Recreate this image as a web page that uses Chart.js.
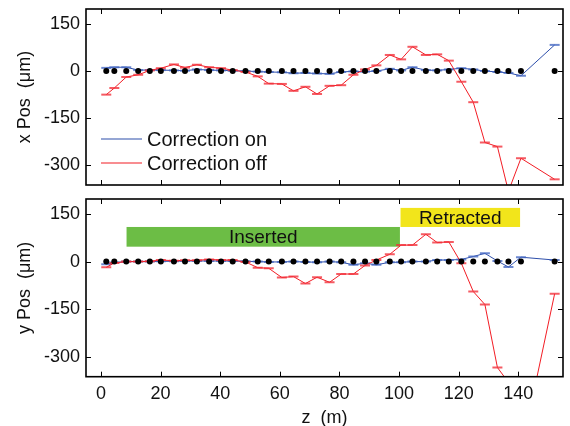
<!DOCTYPE html>
<html><head><meta charset="utf-8">
<script src="https://cdn.jsdelivr.net/npm/chart.js@4.4.1/dist/chart.umd.min.js"></script>
<style>
html,body{margin:0;padding:0;background:#fff;}
#wrap{position:relative;width:570px;height:426px;overflow:hidden;}
#c1{position:absolute;left:0;top:0;}
#c2{position:absolute;left:0;top:192px;}
</style></head><body>
<div id="wrap"><canvas id="c1" width="570" height="192"></canvas><canvas id="c2" width="570" height="234"></canvas></div>
<script>
// ---- data ----
const zPos = [1.8, 4.5, 8.5, 12.5, 16.4, 20.1, 24.5, 28.2, 32.2, 36.3, 40.3, 44.2, 48.5, 52.6, 56.3, 60.7, 64.6, 68.6, 72.5, 76.7, 80.6, 84.7, 88.6, 92.4, 96.9, 100.7, 104.5, 109.0, 112.8, 116.7, 120.9, 124.9, 128.8, 133.0, 136.7, 140.9, 152.2];
const bpmPos = [0,0,0,0,0,0,0,0,0,0,0,0,0,0,0,0,0,0,0,0,0,0,0,0,0,0,0,0,0,0,0,0,0,0,0,0,0];
const xCorrOn = [10,12,12,3,3,3,2,1,5,3,2,1,0,-2,-3,-4,-7,-6,-8,-9,-3,-1,-2,0,7,2,12,3,2,5,9,5,0,-3,-6,-15,83];
const xCorrOff = [-75,-54,-19,-12,2,9,21,11,20,12,9,3,-3,-17,-40,-41,-63,-50,-73,-47,-45,-12,5,18,51,37,77,51,53,33,-34,-99,-227,-240,-382,-277,-344];
const yCorrOn = [-8,-3,0,0,0,1,1,2,2,2,2,2,1,0,-1,-1,0,-1,-2,0,-2,-10,-5,-10,-2,-2,0,0,5,5,7,16,26,2,-17,14,5];
const yCorrOff = [-18,-4,0,0,1,5,3,4,4,7,5,5,-1,-19,-21,-50,-47,-69,-49,-65,-39,-39,-12,5,23,52,52,86,60,62,-5,-94,-135,-333,-380,-600,-101];
const zTicks = [0,20,40,60,80,100,120,140];
const posTicks = [-300,-150,0,150];
const zRange = [-5,155];
const posRange = [-362,197];
const seriesLabels = ['Correction on','Correction off'];
const bandLabels = ['Inserted','Retracted'];
const bandZStart = [8.6,100.5];
const bandZEnd = [100.3,140.6];
const bandPosLow = [47,109];
const bandPosHigh = [109,169];

// ---- styles ----
const FONT = "'Liberation Sans', Arial, Helvetica, sans-serif";
const BLUE = 'rgb(45,78,170)';
const BLUE_M = 'rgba(70,105,195,0.8)';
const RED = 'rgb(242,28,36)';
const RED_M = 'rgba(242,50,60,0.8)';
const BAND_COLORS = ['#6cbd45','#f2e51b'];

Chart.defaults.font.family = FONT;
Chart.defaults.color = '#111';

function pts(xs, ys){ return xs.map((x,i)=>({x:x,y:ys[i]})); }

function datasets(on, off){
  return [
    {label: seriesLabels[0], data: pts(zPos,on), borderColor: BLUE, borderWidth: 1,
     pointStyle:'line', pointRadius:5, pointBorderWidth:2, pointBorderColor: BLUE_M, pointBackgroundColor: BLUE_M, order:3},
    {label: seriesLabels[1], data: pts(zPos,off), borderColor: RED, borderWidth: 1,
     pointStyle:'line', pointRadius:5, pointBorderWidth:2, pointBorderColor: RED_M, pointBackgroundColor: RED_M, order:2},
    {label: 'BPM', data: pts(zPos,bpmPos), showLine:false, pointStyle:'circle', pointRadius:3,
     pointBorderWidth:0, pointBackgroundColor:'#000', pointBorderColor:'#000', order:1}
  ];
}

const framePlugin = {
  id:'frame',
  afterDatasetsDraw(chart){
    const {ctx, chartArea:a, scales:{x,y}} = chart;
    ctx.save();
    ctx.strokeStyle = '#000';
    ctx.lineWidth = 1;
    ctx.beginPath();
    zTicks.forEach(v=>{ const p = Math.round(x.getPixelForValue(v))+0.5;
      ctx.moveTo(p,a.bottom); ctx.lineTo(p,a.bottom-5); ctx.moveTo(p,a.top); ctx.lineTo(p,a.top+5); });
    posTicks.forEach(v=>{ const p = Math.round(y.getPixelForValue(v))+0.5;
      ctx.moveTo(a.left,p); ctx.lineTo(a.left+5,p); ctx.moveTo(a.right,p); ctx.lineTo(a.right-5,p); });
    ctx.stroke();
    ctx.lineWidth = 1.6;
    ctx.strokeRect(a.left, a.top, a.right-a.left, a.bottom-a.top);
    ctx.restore();
  }
};

const legendPlugin = {
  id:'insetLegend',
  afterDatasetsDraw(chart){
    const {ctx, chartArea:a} = chart;
    ctx.save();
    ctx.font = '20px ' + FONT;
    ctx.textBaseline = 'middle';
    ctx.fillStyle = '#111';
    [0,1].forEach(i=>{
      const ds = chart.data.datasets[i];
      const yy = a.bottom - 46 + i*24;
      ctx.strokeStyle = ds.borderColor; ctx.lineWidth = 1.2;
      ctx.beginPath(); ctx.moveTo(a.left+15, yy); ctx.lineTo(a.left+56, yy); ctx.stroke();
      ctx.fillText(ds.label, a.left+61, yy+1);
    });
    ctx.restore();
  }
};

const bandPlugin = {
  id:'bands',
  beforeDatasetsDraw(chart){
    const {ctx, scales:{x,y}} = chart;
    ctx.save();
    bandLabels.forEach((lab,i)=>{
      const x0 = x.getPixelForValue(bandZStart[i]), x1 = x.getPixelForValue(bandZEnd[i]);
      const y0 = y.getPixelForValue(bandPosHigh[i]), y1 = y.getPixelForValue(bandPosLow[i]);
      ctx.fillStyle = BAND_COLORS[i];
      ctx.fillRect(x0,y0,x1-x0,y1-y0);
      ctx.fillStyle = '#111';
      ctx.font = '19px ' + FONT;
      ctx.textAlign = 'center'; ctx.textBaseline = 'middle';
      ctx.fillText(lab, (x0+x1)/2, (y0+y1)/2+1);
    });
    ctx.restore();
  }
};

function makeOptions(isBottom, yTitle){
  return {
    responsive:false, animation:false, devicePixelRatio:1, events:[],
    layout:{padding:{top: isBottom?5:9, right:3, left:0, bottom:0}},
    plugins:{legend:{display:false}, tooltip:{enabled:false}},
    scales:{
      x:{type:'linear', min:zRange[0], max:zRange[1],
        afterBuildTicks:s=>{ s.ticks = zTicks.map(v=>({value:v})); },
        afterFit:s=>{ s.height = isBottom?49.3:4; s.paddingLeft=0; s.paddingRight=0; },
        grid:{display:false, drawTicks:false}, border:{display:false},
        ticks:{display:isBottom, font:{size:18}, color:'#111', padding:7, maxRotation:0, autoSkip:false},
        title:{display:isBottom, text:'z  (m)', font:{size:18}, color:'#111', padding:{top:0,bottom:-3}}
      },
      y:{min:posRange[0], max:posRange[1],
        afterBuildTicks:s=>{ s.ticks = posTicks.map(v=>({value:v})); },
        afterFit:s=>{ s.width = 86; s.paddingTop=0; s.paddingBottom=0; },
        grid:{display:false, drawTicks:false}, border:{display:false},
        ticks:{font:{size:18}, color:'#111', padding:6},
        title:{display:true, text:yTitle, font:{size:18}, color:'#111', padding:{top:14,bottom:0}}
      }
    }
  };
}

new Chart(document.getElementById('c1'), {
  type:'line',
  data:{datasets: datasets(xCorrOn, xCorrOff)},
  options: makeOptions(false, 'x Pos  (\u03bcm)'),
  plugins:[framePlugin, legendPlugin]
});
new Chart(document.getElementById('c2'), {
  type:'line',
  data:{datasets: datasets(yCorrOn, yCorrOff)},
  options: makeOptions(true, 'y Pos  (\u03bcm)'),
  plugins:[bandPlugin, framePlugin]
});
</script></body></html>
